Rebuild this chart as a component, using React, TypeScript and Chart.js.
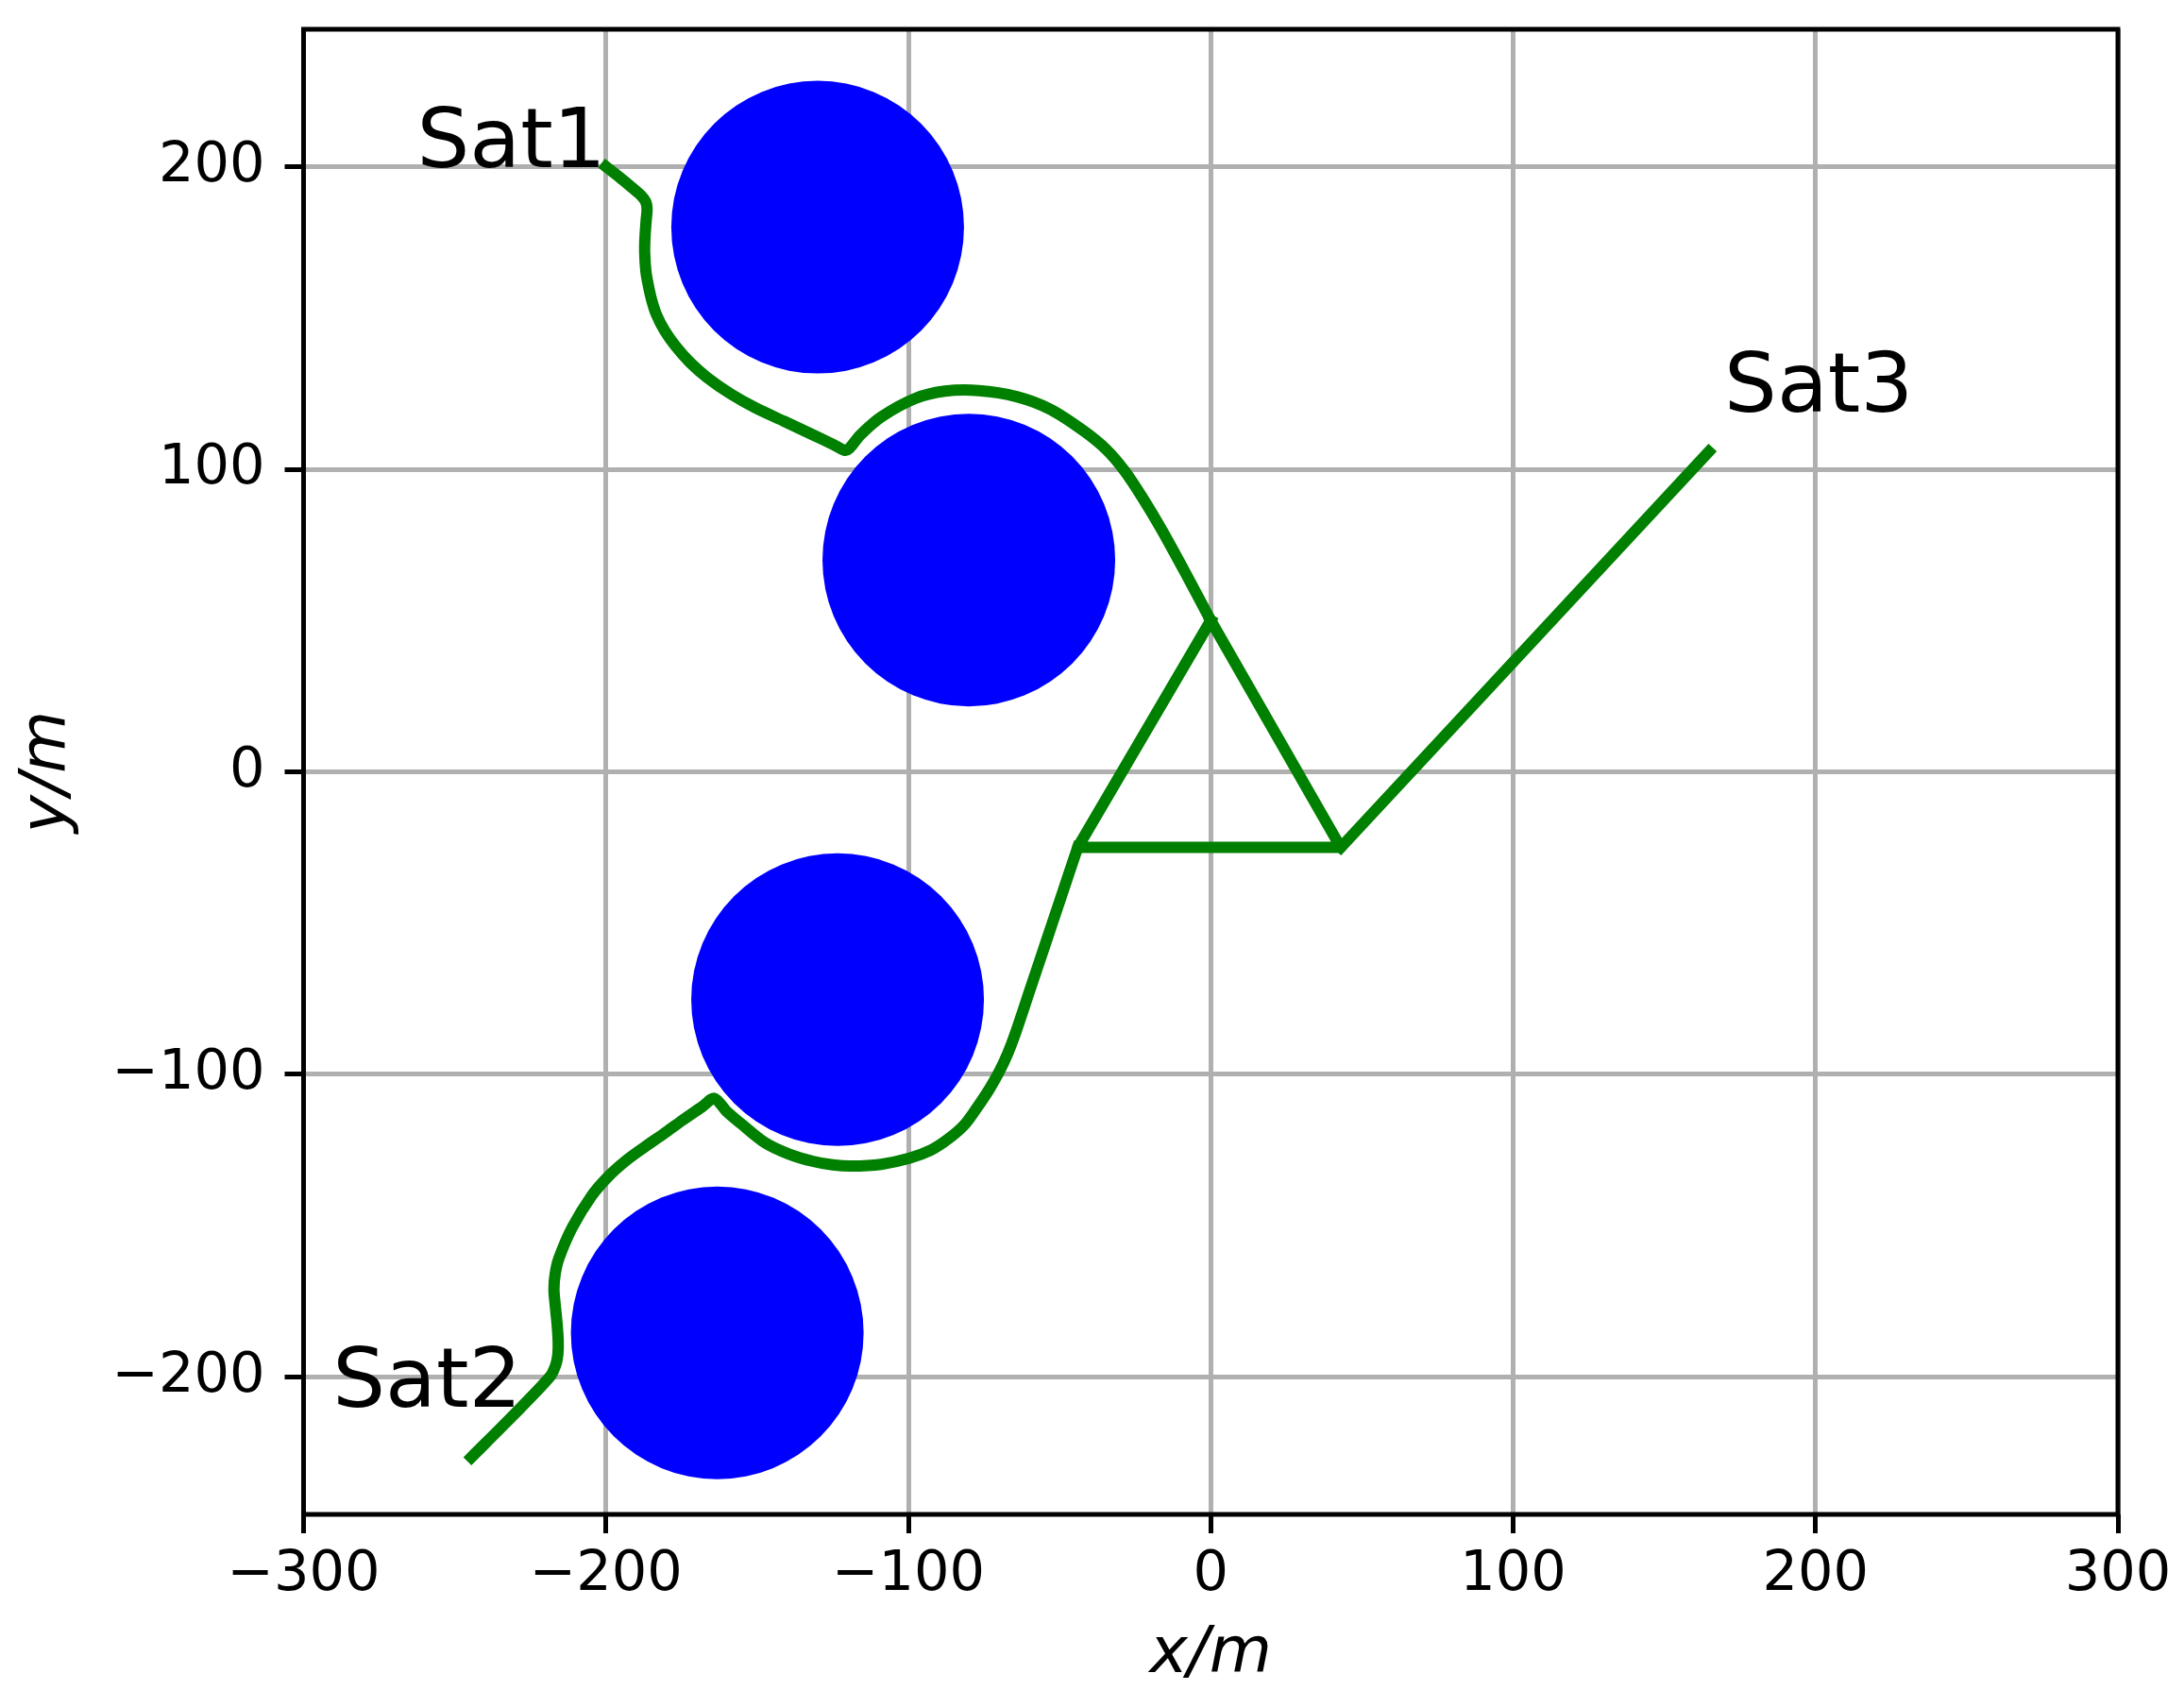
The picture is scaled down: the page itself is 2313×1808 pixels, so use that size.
import React, { useEffect, useRef } from 'react';
import { Chart, registerables } from 'chart.js';

Chart.register(...registerables);

// ---- axes ----
const xRange = [-300, 300];
const yRange = [-245.4, 245.4];
const xTicks = [-300, -200, -100, 0, 100, 200, 300];
const xTickLabels = ['\u2212300', '\u2212200', '\u2212100', '0', '100', '200', '300'];
const yTicks = [-200, -100, 0, 100, 200];
const yTickLabels = ['\u2212200', '\u2212100', '0', '100', '200'];

// ---- obstacles (blue circles) ----
const circleX = [-130.0, -80.0, -123.4, -163.2];
const circleY = [180.0, 70.0, -75.3, -185.4];
const circleR = [48.4, 48.4, 48.4, 48.4];

// ---- trajectories ----
const sat1X = [-200, -195.5, -191.5, -188.5, -186.8, -186.4, -186.7, -187.1, -187.2, -186.8, -186.0, -184.9, -183.3, -180.6, -177.0, -172.2, -166.5, -158.6, -150.6, -141.2, -131.6, -124.5, -121.2, -119.6, -115.8, -108.8, -97.7, -87.9, -76.7, -64.2, -53.0, -41.9, -34.5, -28.5, -22.5, -16.5, -8.3, 0];
const sat1Y = [200, 196.5, 193.2, 190.6, 188.3, 185.8, 182.3, 176.5, 171.9, 165.5, 160.8, 156.0, 151.1, 145.8, 140.7, 135.3, 130.3, 124.8, 120.3, 115.9, 111.4, 108.0, 106.3, 106.8, 111.4, 117.4, 123.4, 125.8, 126.0, 124.0, 119.8, 112.6, 106.5, 99.5, 90.5, 80.5, 65.6, 50];

const sat2X = [-244.5, -231.0, -218.6, -216.6, -215.9, -215.8, -216.2, -216.8, -217.2, -216.8, -215.6, -211.1, -204.8, -199.5, -193.5, -187.5, -180.9, -174.5, -168.1, -164.2, -160.2, -155.4, -147.5, -139.5, -131.6, -125.0, -118.8, -109.0, -99.7, -92.5, -86.9, -81.5, -77.3, -73.3, -69.9, -67.1, -64.8, -59.6, -54.4, -49.2, -44.0];
const sat2Y = [-226.5, -213.0, -200.0, -196.0, -192.5, -188.0, -182.0, -176.0, -171.0, -166.0, -160.9, -150.5, -140.2, -134.0, -128.6, -124.2, -119.6, -115.0, -110.6, -107.9, -112.1, -116.2, -122.5, -126.3, -128.7, -129.9, -130.3, -129.7, -127.7, -125.0, -121.4, -116.7, -111.0, -105.0, -99.0, -93.0, -87.0, -71.5, -56.0, -40.5, -25.0];

const sat3X = [164.7, 43.0];
const sat3Y = [105.8, -25.0];

// final triangle formation
const triX = [0, -44.0, 43.0, 0];
const triY = [50, -25.0, -25.0, 50];

// ---- text labels ----
const satLabels = ['Sat1', 'Sat2', 'Sat3'];
const satLabelX = [-200, -290.4, 169.8];
const satLabelY = [200, -209.8, 119.0];
const satLabelAlign: CanvasTextAlign[] = ['right', 'left', 'left'];

const zip = (xs: number[], ys: number[]) => xs.map((x, i) => ({ x, y: ys[i] }));

const GREEN = '#008000';
const FONT = 'DejaVu Sans';

const lineDs = (xs: number[], ys: number[], tension: number) => ({
  type: 'scatter' as const,
  data: zip(xs, ys),
  showLine: true,
  borderColor: GREEN,
  backgroundColor: GREEN,
  borderWidth: 12,
  borderJoinStyle: 'round' as const,
  borderCapStyle: 'square' as const,
  pointRadius: 0,
  pointHoverRadius: 0,
  tension,
});

const overlayPlugin = {
  id: 'overlay',
  afterDatasetsDraw(chart: any) {
    const { ctx, chartArea: a, scales } = chart;
    const sx = scales.x;
    const sy = scales.y;
    ctx.save();
    ctx.fillStyle = '#000';
    ctx.font = `88px "${FONT}"`;
    ctx.textBaseline = 'alphabetic';
    satLabels.forEach((t, i) => {
      ctx.textAlign = satLabelAlign[i];
      ctx.fillText(t, sx.getPixelForValue(satLabelX[i]), sy.getPixelForValue(satLabelY[i]));
    });
    ctx.strokeStyle = '#000';
    ctx.lineWidth = 5;
    ctx.strokeRect(a.left, a.top, a.right - a.left, a.bottom - a.top);
    ctx.restore();
  },
};

export default function App() {
  const ref = useRef<HTMLCanvasElement>(null);

  useEffect(() => {
    if (!ref.current) return;
    const circleRadius = (ctx: any) => {
      const s = ctx.chart.scales.x;
      const r = circleR[ctx.dataIndex] ?? 0;
      return Math.abs(s.getPixelForValue(r) - s.getPixelForValue(0));
    };
    const chart = new Chart(ref.current, {
      type: 'scatter',
      data: {
        datasets: [
          lineDs(sat1X, sat1Y, 0.3),
          lineDs(sat2X, sat2Y, 0.3),
          lineDs(sat3X, sat3Y, 0),
          lineDs(triX, triY, 0),
          {
            type: 'scatter',
            data: zip(circleX, circleY),
            showLine: false,
            pointRadius: circleRadius,
            pointHoverRadius: circleRadius,
            pointBackgroundColor: '#0000ff',
            pointBorderWidth: 0,
            pointHoverBorderWidth: 0,
            pointBorderColor: '#0000ff',
          } as any,
        ],
      },
      options: {
        responsive: false,
        animation: false,
        devicePixelRatio: 1,
        events: [],
        layout: { padding: { top: 31, right: 70, left: 0, bottom: 0 } },
        plugins: {
          legend: { display: false },
          tooltip: { enabled: false },
        },
        scales: {
          x: {
            type: 'linear',
            min: xRange[0],
            max: xRange[1],
            afterBuildTicks: (s: any) => {
              s.ticks = xTicks.map((v) => ({ value: v }));
            },
            afterFit: (s: any) => {
              s.height = 204;
              s.paddingLeft = 0;
              s.paddingRight = 0;
            },
            ticks: {
              callback: (_v: any, i: number) => xTickLabels[i],
              font: { family: FONT, size: 59 },
              color: '#000',
              padding: 9,
              maxRotation: 0,
              autoSkip: false,
            },
            grid: {
              color: '#b0b0b0',
              lineWidth: 5,
              drawTicks: true,
              tickColor: '#000',
              tickWidth: 5,
              tickLength: 20,
            },
            border: { display: false },
            title: {
              display: true,
              text: 'x/m',
              color: '#000',
              font: { family: FONT, size: 68, style: 'italic' },
              padding: { top: 0, bottom: 14 },
            },
          },
          y: {
            type: 'linear',
            min: yRange[0],
            max: yRange[1],
            afterBuildTicks: (s: any) => {
              s.ticks = yTicks.map((v) => ({ value: v }));
            },
            afterFit: (s: any) => {
              s.width = 321.5;
              s.paddingTop = 0;
              s.paddingBottom = 0;
            },
            ticks: {
              callback: (_v: any, i: number) => yTickLabels[i],
              font: { family: FONT, size: 59 },
              color: '#000',
              padding: 21,
              autoSkip: false,
            },
            grid: {
              color: '#b0b0b0',
              lineWidth: 5,
              drawTicks: true,
              tickColor: '#000',
              tickWidth: 5,
              tickLength: 20,
            },
            border: { display: false },
            title: {
              display: true,
              text: 'y/m',
              color: '#000',
              font: { family: FONT, size: 68, style: 'italic' },
              padding: { top: 11, bottom: 0 },
            },
          },
        },
      } as any,
      plugins: [overlayPlugin],
    });
    return () => chart.destroy();
  }, []);

  return (
    <div style={{ position: 'absolute', left: 0, top: 0, width: 2313, height: 1808, background: '#fff' }}>
      <canvas ref={ref} width={2313} height={1808} style={{ display: 'block' }} />
    </div>
  );
}
